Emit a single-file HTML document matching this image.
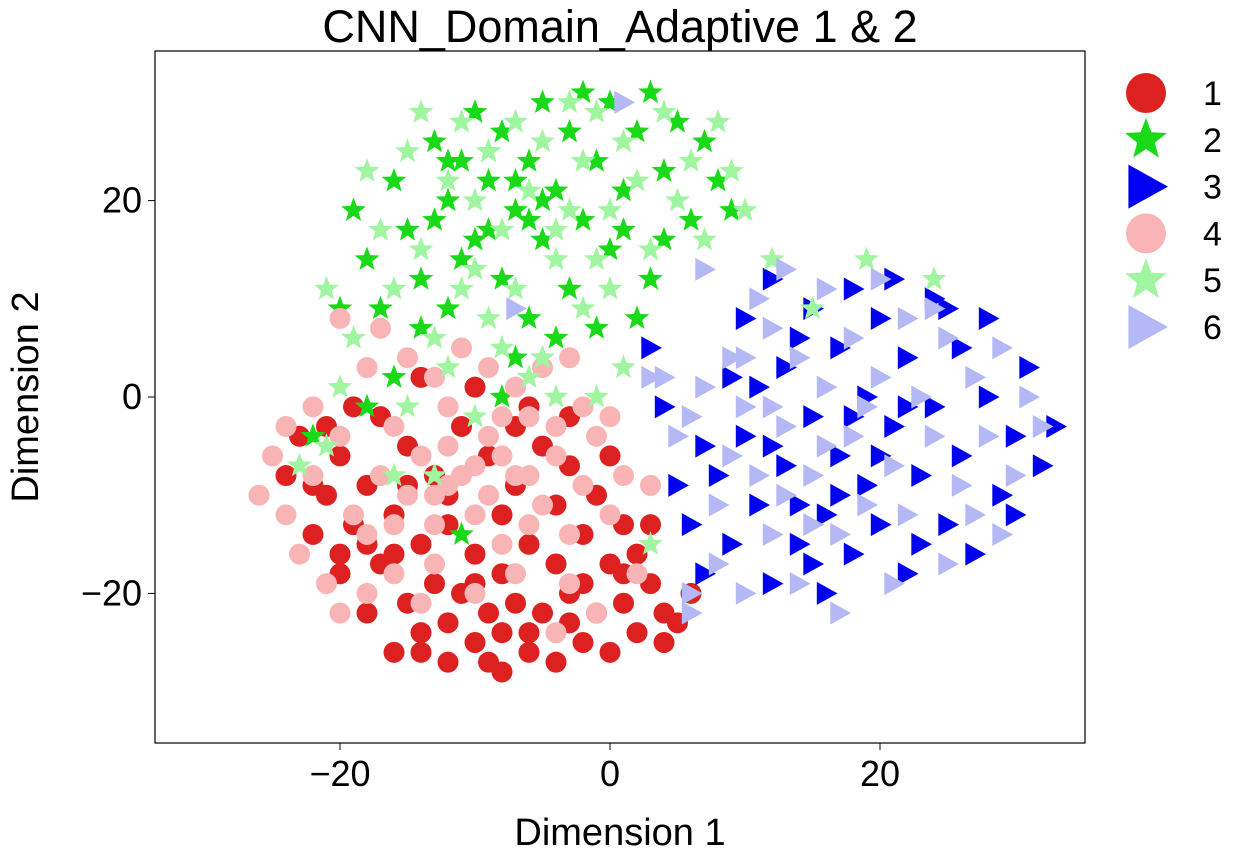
<!DOCTYPE html>
<html><head><meta charset="utf-8"><style>
body{margin:0;background:#fff}
svg text{font-family:"Liberation Sans",sans-serif;fill:#000}
</style></head><body>
<svg id="chart" width="1246" height="859" xmlns="http://www.w3.org/2000/svg">
<rect width="1246" height="859" fill="#fff"/>
<text x="620" y="42" font-size="45" text-anchor="middle">CNN_Domain_Adaptive 1 &amp; 2</text>
<text x="620" y="845" font-size="38" text-anchor="middle">Dimension 1</text>
<text transform="translate(38,397) rotate(-90)" font-size="38" text-anchor="middle">Dimension 2</text>
<g id="marks"></g>
<rect x="155" y="51" width="930" height="692" fill="none" stroke="#000" stroke-width="1.2"/>
<g id="ticks"></g>
<g id="legend"></g>
</svg>
<script>
const xTicks=[-20,0,20];
const yTicks=[-20,0,20];
const tickLabels=["\u221220","0","20"];
const seriesNames=["1","2","3","4","5","6"];
const seriesColors=["#dd2020","#19d919","#0000f0","#f9b5b5","#a0f5a0","#b4b8f5"];
const seriesShapes=["circle","star","tri","circle","star","tri"];
const s1=[[-24,-8],[-22,-14],[-20,-18],[-18,-22],[-16,-26],[-14,-24],[-12,-27],[-10,-25],[-8,-28],[-6,-26],[-4,-27],[-2,-25],[0,-26],[2,-24],[4,-22],[6,-20],[5,-23],[3,-19],[1,-21],[-1,-22],[-3,-20],[-5,-22],[-7,-21],[-9,-22],[-11,-20],[-13,-19],[-15,-21],[-17,-17],[-19,-13],[-21,-10],[-23,-4],[-20,-6],[-18,-9],[-16,-12],[-14,-15],[-12,-13],[-10,-16],[-8,-18],[-6,-15],[-4,-17],[-2,-14],[0,-17],[2,-16],[-1,-10],[-3,-7],[-5,-5],[-7,-9],[-9,-6],[-11,-3],[-13,-8],[-15,-5],[-17,-2],[-19,-1],[-21,-3],[-14,2],[-10,1],[-6,-1],[-3,-2],[-8,-12],[-12,-10],[-16,-16],[-6,-24],[-10,-19],[-2,-19],[1,-13],[-20,-16],[-4,-11],[3,-13],[0,-6],[-12,-23],[-9,-27],[-14,-26],[-3,-23],[4,-25],[-8,-24],[1,-18],[-18,-15],[-22,-9],[-7,-3],[-15,-9]];
const s2=[[-19,19],[-18,14],[-17,9],[-16,22],[-15,17],[-14,12],[-13,26],[-12,20],[-11,24],[-10,16],[-10,29],[-9,22],[-8,27],[-8,12],[-7,19],[-6,24],[-6,8],[-5,30],[-5,16],[-4,21],[-3,27],[-3,11],[-2,18],[-1,24],[0,15],[0,30],[1,21],[2,27],[3,12],[4,23],[5,28],[6,18],[7,26],[8,22],[9,19],[-14,7],[-12,9],[-4,6],[-1,7],[2,8],[-16,2],[-11,14],[-7,4],[-2,31],[3,31],[-9,17],[-5,20],[-13,18],[1,17],[4,16],[-20,9],[-18,-1],[-22,-4],[-8,0],[-11,-14],[-7,22],[-9,25],[-6,18],[-12,24]];
const s3=[[3,5],[4,-1],[5,-9],[6,-13],[7,-18],[8,-8],[9,2],[9,-15],[10,8],[10,-4],[11,-11],[12,-19],[12,12],[13,3],[13,-7],[14,-15],[15,9],[15,-2],[16,-12],[16,-20],[17,5],[17,-6],[18,11],[18,-16],[19,0],[19,-9],[20,8],[20,-13],[21,-3],[22,4],[22,-18],[23,-8],[24,10],[24,-1],[25,-13],[26,5],[26,-6],[27,-16],[28,0],[28,8],[29,-10],[30,-4],[31,3],[32,-7],[33,-3],[11,1],[14,-11],[21,12],[23,-15],[7,-5],[25,9],[18,-2],[15,-17],[30,-12],[12,-5],[17,-10],[20,-6],[22,-1],[14,6]];
const s4=[[-26,-10],[-25,-6],[-24,-3],[-22,-1],[-23,-16],[-21,-19],[-20,-22],[-18,-20],[-19,-12],[-17,-8],[-20,-4],[-18,-14],[-16,-18],[-15,-10],[-14,-6],[-13,-13],[-12,-1],[-11,-8],[-10,-12],[-9,-4],[-8,-15],[-7,-8],[-6,-2],[-5,-11],[-4,-6],[-3,-14],[-2,-9],[-1,-4],[0,-12],[1,-8],[2,-18],[-1,-22],[-4,-24],[-7,-18],[-10,-20],[-13,-17],[-16,-3],[-18,3],[-20,8],[-17,7],[-15,4],[-13,2],[-11,5],[-9,3],[-7,1],[-5,3],[-3,4],[-12,-5],[-8,-6],[-14,-21],[-22,-8],[-6,-13],[0,-2],[-16,-13],[-9,-10],[-3,-19],[-12,-9],[-2,-1],[3,-9],[-24,-12],[-10,-7],[-6,-8],[-4,-3],[-13,-10],[-8,-2]];
const s5=[[-21,11],[-19,6],[-17,17],[-16,11],[-15,25],[-14,15],[-13,6],[-12,22],[-11,11],[-11,28],[-10,20],[-9,8],[-9,25],[-8,17],[-7,28],[-7,11],[-6,21],[-5,4],[-5,26],[-4,14],[-3,30],[-3,19],[-2,9],[-2,24],[-1,29],[0,19],[0,11],[1,26],[2,22],[3,15],[4,29],[5,20],[6,24],[7,16],[8,28],[9,23],[10,19],[-14,29],[-18,23],[-21,-5],[-23,-7],[-13,-8],[-16,-8],[-10,-2],[-4,0],[-6,2],[-8,5],[1,3],[3,-15],[-1,0],[-12,3],[-20,1],[-15,-1],[12,14],[24,12],[19,14],[15,9],[-10,13],[-4,17],[-1,14]];
const s6=[[4,2],[5,-4],[6,-20],[6,-22],[7,13],[8,-11],[8,-17],[9,4],[10,-1],[10,-20],[11,-8],[12,7],[12,-14],[13,13],[13,-3],[14,4],[14,-19],[15,-8],[16,11],[16,1],[17,-14],[17,-22],[18,6],[18,-4],[19,-11],[20,12],[20,2],[21,-7],[21,-19],[22,8],[22,-12],[23,0],[24,-4],[25,6],[25,-17],[26,-9],[27,2],[27,-12],[28,-4],[29,5],[30,-8],[31,0],[32,-3],[29,-14],[12,-1],[9,-6],[3,2],[1,30],[-7,9],[15,-13],[19,-1],[24,9],[7,1],[11,10],[6,-2],[10,4],[16,-5],[13,-10]];
const allSeries=[s1,s2,s3,s4,s5,s6];

const NS="http://www.w3.org/2000/svg";
function xs(v){return 610+v*13.5;}
function ys(v){return 397-v*9.82;}
function shape(kind,cx,cy,sz,color){
  let el;
  if(kind==="circle"){el=document.createElementNS(NS,"circle");el.setAttribute("cx",cx);el.setAttribute("cy",cy);el.setAttribute("r",sz);}
  else if(kind==="star"){el=document.createElementNS(NS,"polygon");let p=[];for(let i=0;i<10;i++){const r=i%2?sz*0.42:sz;const a=-Math.PI/2+i*Math.PI/5;p.push((cx+r*Math.cos(a)).toFixed(1)+","+(cy+r*Math.sin(a)).toFixed(1));}el.setAttribute("points",p.join(" "));}
  else{el=document.createElementNS(NS,"polygon");el.setAttribute("points",(cx-sz*0.8)+","+(cy-sz)+" "+(cx+sz)+","+cy+" "+(cx-sz*0.8)+","+(cy+sz));}
  el.setAttribute("fill",color);
  return el;
}
const marks=document.getElementById("marks");
const sizes={circle:10.5,star:13,tri:11.5};
allSeries.forEach((pts,si)=>{
  const g=document.createElementNS(NS,"g");
  
  
  pts.forEach(p=>{
    const m=shape(seriesShapes[si],xs(p[0]),ys(p[1]),sizes[seriesShapes[si]],seriesColors[si]);
    
    
    g.appendChild(m);
  });
  marks.appendChild(g);
});
const ticks=document.getElementById("ticks");
xTicks.forEach((v,i)=>{
  const l=document.createElementNS(NS,"line");l.setAttribute("x1",xs(v));l.setAttribute("x2",xs(v));l.setAttribute("y1",743);l.setAttribute("y2",750);l.setAttribute("stroke","#000");
  
  
  ticks.appendChild(l);
  const t=document.createElementNS(NS,"text");t.setAttribute("x",xs(v));t.setAttribute("y",786);t.setAttribute("font-size","36");t.setAttribute("text-anchor","middle");t.textContent=tickLabels[i];
  
  
  ticks.appendChild(t);
});
yTicks.forEach((v,i)=>{
  const l=document.createElementNS(NS,"line");l.setAttribute("x1",148);l.setAttribute("x2",155);l.setAttribute("y1",ys(v));l.setAttribute("y2",ys(v));l.setAttribute("stroke","#000");
  
  
  ticks.appendChild(l);
  const t=document.createElementNS(NS,"text");t.setAttribute("x",142);t.setAttribute("y",ys(v)+12);t.setAttribute("font-size","36");t.setAttribute("text-anchor","end");t.textContent=tickLabels[i];
  
  
  ticks.appendChild(t);
});
const legend=document.getElementById("legend");
seriesNames.forEach((n,i)=>{
  const y=93+i*46.8;
  const g=document.createElementNS(NS,"g");
  
  
  g.appendChild(shape(seriesShapes[i],1146,y,seriesShapes[i]==="circle"?20:22,seriesColors[i]));
  const t=document.createElementNS(NS,"text");t.setAttribute("x",1203);t.setAttribute("y",y+12);t.setAttribute("font-size","34");t.textContent=n;
  g.appendChild(t);
  legend.appendChild(g);
});
</script>
</body></html>
